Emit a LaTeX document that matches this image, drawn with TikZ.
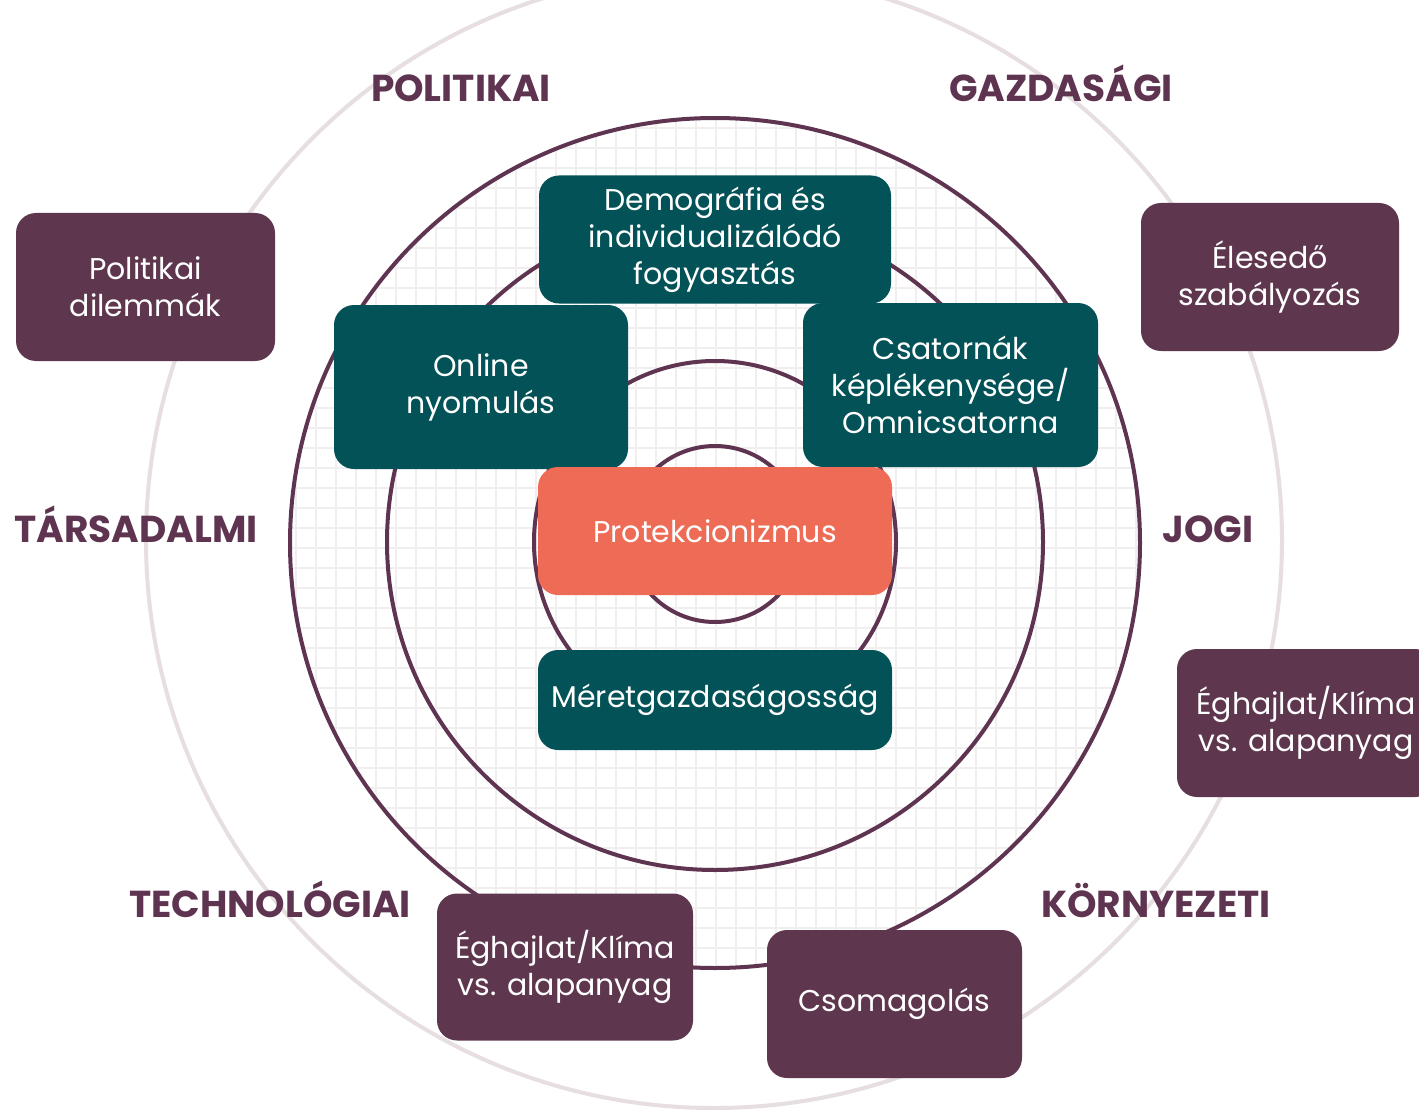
\documentclass[tikz,border=0pt]{standalone}
\usepackage{fontspec}
\setmainfont{Poppins}
\definecolor{tealbox}{HTML}{035257}
\definecolor{plum}{HTML}{5E374F}
\definecolor{labplum}{HTML}{5E3450}
\definecolor{coral}{HTML}{EE6B55}
\definecolor{lightring}{HTML}{E6DEE0}
\definecolor{gridgray}{HTML}{F0EEEF}
\begin{document}
\begin{tikzpicture}[x=1pt,y=-1pt,
  boxbase/.style={rounded corners=20pt, inner sep=0pt, align=center, text=white,
    font=\fontsize{30}{37}\selectfont},
  tealnode/.style={boxbase, fill=tealbox},
  plumnode/.style={boxbase, fill=plum},
  coralnode/.style={boxbase, fill=coral},
  lab/.style={anchor=base, inner sep=0pt, text=labplum, font=\fontsize{37.5}{40}\selectfont\bfseries},
  ringline/.style={draw=labplum, line width=4pt},
  gridline/.style={draw=gridgray, line width=1.6pt},
  lightline/.style={draw=lightring, line width=4pt}]
\useasboundingbox (0,0) rectangle (1419,1110);
\clip (0,0) rectangle (1419,1110);
\fill[white] (0,0) rectangle (1419,1110);
% outer light ring
\draw[lightline] (714,540) circle[radius=568pt];
% grid inside outer dark ring
\begin{scope}
  \clip (715,543) circle[radius=425pt];
  \foreach \i in {0,...,44} \draw[gridline] ({276+20*\i},100) -- ({276+20*\i},1000);
  \foreach \j in {0,...,44} \draw[gridline] (270,{108+20*\j}) -- (1160,{108+20*\j});
\end{scope}
% dark rings
\draw[ringline] (715,543) circle[radius=425pt];
\draw[ringline] (715,542) circle[radius=328pt];
\draw[ringline] (715,542) circle[radius=181pt];
\draw[ringline] (715,534) circle[radius=88pt];
% central boxes
\node[tealnode, minimum width=352pt, minimum height=128pt] (demo) at (715,239.5) {Demográfia és\\individualizálódó\\fogyasztás};
\node[tealnode, minimum width=294pt, minimum height=164pt] (online) at (481,387) {Online\\nyomulás};
\node[tealnode, minimum width=295pt, minimum height=164pt] (csat) at (950.5,385) {Csatornák\\képlékenysége/\\Omnicsatorna};
\node[coralnode, minimum width=354pt, minimum height=128pt] (prot) at (715,531) {Protekcionizmus};
\node[tealnode, minimum width=354pt, minimum height=100pt] (meret) at (715,700) {Méretgazdaságosság};
% outer boxes
\node[plumnode, minimum width=259pt, minimum height=148pt] (poldil) at (145.5,287) {Politikai\\dilemmák};
\node[plumnode, minimum width=258pt, minimum height=148pt] (eles) at (1270,277) {Élesedő\\szabályozás};
\node[plumnode, minimum width=258pt, minimum height=148pt] (eghr) at (1306,723) {Éghajlat/Klíma\\vs. alapanyag};
\node[plumnode, minimum width=256pt, minimum height=147pt] (eghb) at (565,967) {Éghajlat/Klíma\\vs. alapanyag};
\node[plumnode, minimum width=255pt, minimum height=148pt] (csom) at (894.5,1004) {Csomagolás};
% labels
\node[lab] (lpol) at (461,102) {POLITIKAI};
\node[lab] (lgaz) at (1061,102) {GAZDASÁGI};
\node[lab] (ltar) at (136,542) {TÁRSADALMI};
\node[lab] (ljog) at (1208,542) {JOGI};
\node[lab] (ltec) at (270,917) {TECHNOLÓGIAI};
\node[lab] (lkor) at (1156,917) {KÖRNYEZETI};
\end{tikzpicture}
\end{document}
